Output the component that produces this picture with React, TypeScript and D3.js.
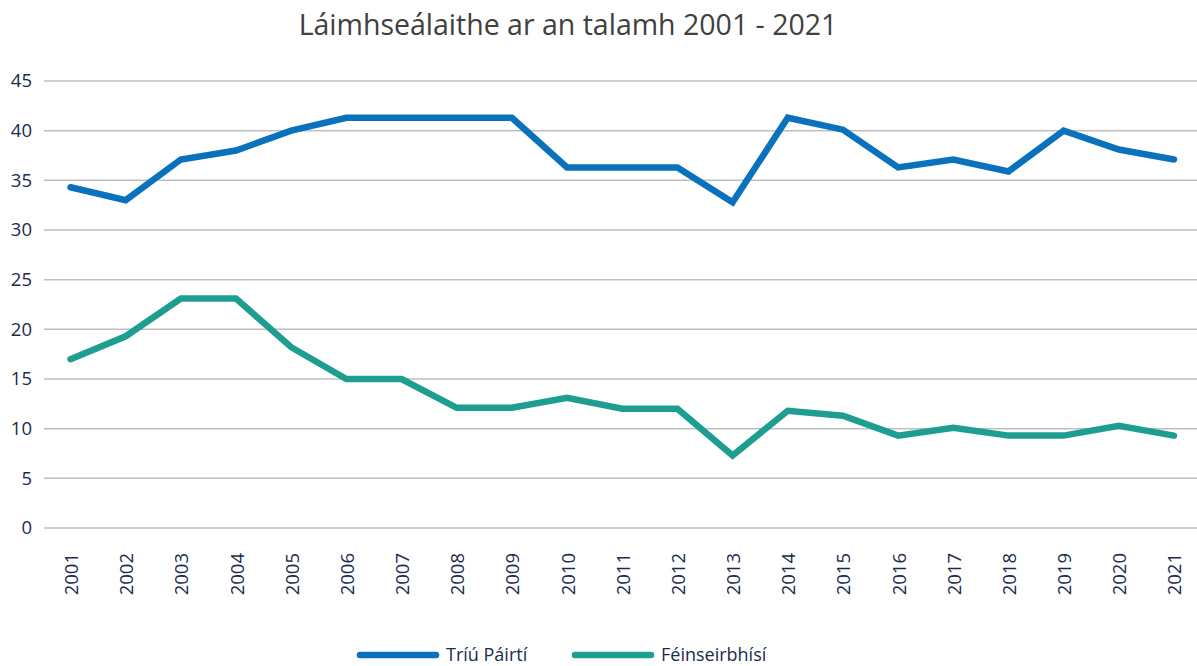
import * as d3 from 'd3';

const years = [
  '2001', '2002', '2003', '2004', '2005', '2006', '2007', '2008', '2009', '2010', '2011',
  '2012', '2013', '2014', '2015', '2016', '2017', '2018', '2019', '2020', '2021',
];
const triuPairti = [
  34.3, 33.0, 37.1, 38.0, 40.0, 41.3, 41.3, 41.3, 41.3, 36.3, 36.3,
  36.3, 32.8, 41.3, 40.1, 36.3, 37.1, 35.9, 40.0, 38.1, 37.1,
];
const feinseirbhisi = [
  17.0, 19.3, 23.1, 23.1, 18.2, 15.0, 15.0, 12.1, 12.1, 13.1, 12.0,
  12.0, 7.3, 11.8, 11.3, 9.3, 10.1, 9.3, 9.3, 10.3, 9.3,
];
const yTicks = [0, 5, 10, 15, 20, 25, 30, 35, 40, 45];
const seriesNames = ['Tríú Páirtí', 'Féinseirbhísí'];
const seriesColors = ['#0a71bd', '#1d9e91'];

const W = 1197;
const H = 666;
const FONT = "'Open Sans', 'Noto Sans', sans-serif";
const TEXT = '#1b2a4e';

export default function App() {
  const x = d3.scalePoint<string>().domain(years).range([70.5, 1174]);
  const y = d3.scaleLinear().domain([0, 45]).range([528, 81]);
  const line = d3
    .line<number>()
    .x((_, i) => x(years[i]) ?? 0)
    .y((d) => y(d));

  const series = [triuPairti, feinseirbhisi];

  return (
    <svg
      width={W}
      height={H}
      style={{ position: 'absolute', left: 0, top: 0, background: '#fff' }}
      fontFamily={FONT}
    >
      <text x={568} y={35} textAnchor="middle" fontSize={28.5} fill="#404040">
        Láimhseálaithe ar an talamh 2001 - 2021
      </text>

      {yTicks.map((t) => (
        <g key={t}>
          <line x1={44} x2={W} y1={y(t)} y2={y(t)} stroke="#bfbfbf" strokeWidth={1.5} />
          <text x={32} y={y(t)} dy="0.35em" textAnchor="end" fontSize={18.5} fill={TEXT}>
            {t}
          </text>
        </g>
      ))}

      {years.map((yr) => (
        <text
          key={yr}
          transform={`translate(${(x(yr) ?? 0) + 1}, 553) rotate(-90)`}
          dy="0.35em"
          textAnchor="end"
          fontSize={18.5}
          fill={TEXT}
        >
          {yr}
        </text>
      ))}

      {series.map((s, i) => (
        <path
          key={seriesNames[i]}
          d={line(s) ?? ''}
          fill="none"
          stroke={seriesColors[i]}
          strokeWidth={6.5}
          strokeLinecap="round"
          strokeLinejoin="miter"
        />
      ))}

      {/* legend */}
      {seriesNames.map((name, i) => {
        const lx = i === 0 ? 360 : 575;
        return (
          <g key={name}>
            <line x1={lx} x2={lx + 76} y1={655} y2={655} stroke={seriesColors[i]} strokeWidth={6.5} strokeLinecap="round" />
            <text x={lx + 86} y={655} dy="0.35em" fontSize={18} fill={TEXT}>
              {name}
            </text>
          </g>
        );
      })}
    </svg>
  );
}
